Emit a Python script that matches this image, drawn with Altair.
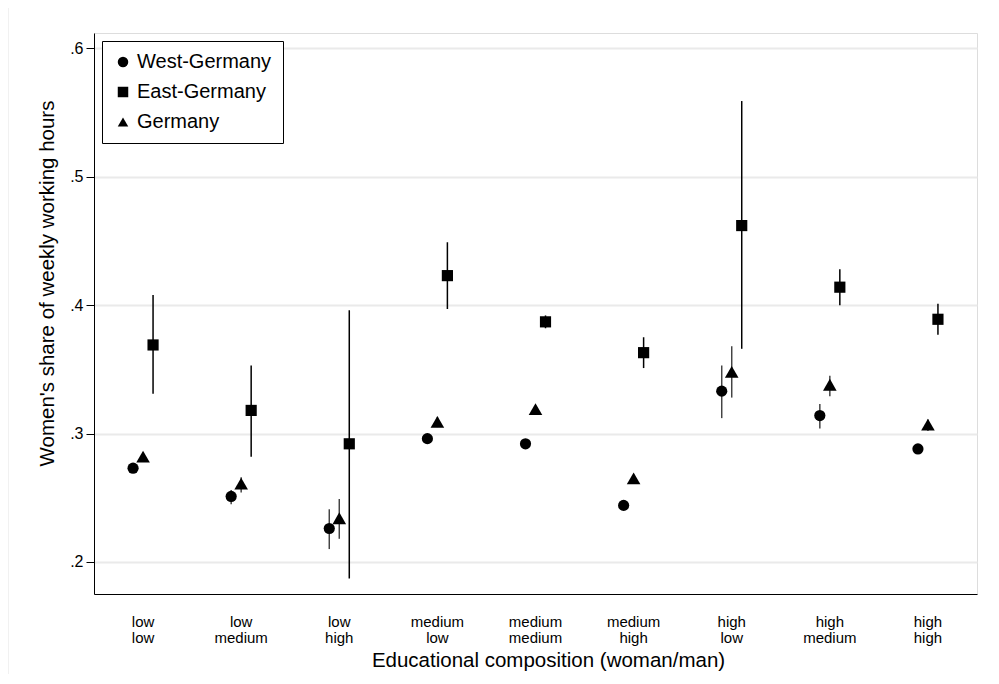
import altair as alt
import pandas as pd

categories = ["low low", "low medium", "low high", "medium low", "medium medium",
              "medium high", "high low", "high medium", "high high"]
series_names = ["West-Germany", "East-Germany", "Germany"]

west = [0.273, 0.251, 0.226, 0.296, 0.292, 0.244, 0.333, 0.314, 0.288]
west_lo = [0.270, 0.245, 0.210, 0.293, 0.290, 0.241, 0.312, 0.304, 0.285]
west_hi = [0.276, 0.256, 0.241, 0.299, 0.294, 0.247, 0.353, 0.323, 0.291]

east = [0.369, 0.318, 0.292, 0.423, 0.387, 0.363, 0.462, 0.414, 0.389]
east_lo = [0.331, 0.282, 0.187, 0.397, 0.382, 0.351, 0.366, 0.400, 0.377]
east_hi = [0.408, 0.353, 0.396, 0.449, 0.392, 0.375, 0.559, 0.428, 0.401]

germany = [0.282, 0.261, 0.234, 0.309, 0.319, 0.265, 0.348, 0.338, 0.307]
germany_lo = [0.278, 0.254, 0.218, 0.305, 0.316, 0.262, 0.328, 0.329, 0.302]
germany_hi = [0.285, 0.266, 0.249, 0.313, 0.322, 0.268, 0.368, 0.345, 0.311]

y_ticks = [0.2, 0.3, 0.4, 0.5, 0.6]

rows = []
for name, v, lo, hi in [("West-Germany", west, west_lo, west_hi),
                        ("East-Germany", east, east_lo, east_hi),
                        ("Germany", germany, germany_lo, germany_hi)]:
    for c, a, b, d in zip(categories, v, lo, hi):
        rows.append({"cat": c, "series": name, "value": a, "lo": b, "hi": d})
df = pd.DataFrame(rows)

FONT = "Liberation Sans"
W, H = 883, 561
BAND = W / len(categories)

x_enc = alt.X("cat:N", sort=categories,
              scale=alt.Scale(paddingInner=0, paddingOuter=0),
              axis=alt.Axis(title="Educational composition (woman/man)",
                            labelExpr="split(datum.label, ' ')",
                            labelAngle=0, ticks=False, labelPadding=20,
                            labelFontSize=15, labelLineHeight=16,
                            titleFontSize=20.5, titlePadding=5,
                            titleX=454,
                            titleFontWeight="normal",
                            domainColor="black", domainWidth=1,
                            labelColor="black", titleColor="black",
                            labelFont=FONT, titleFont=FONT))
xoff_enc = alt.XOffset("series:N",
                       scale=alt.Scale(type="point",
                                       domain=["West-Germany", "Germany", "East-Germany"],
                                       range=[BAND / 2 - 10, BAND / 2 + 10], padding=0))
y_scale = alt.Scale(domain=[0.175, 0.612], nice=False, zero=False)
y_axis = alt.Axis(title="Women's share of weekly working hours",
                  values=y_ticks,
                  labelExpr="replace(format(datum.value, '.1f'), '0.', '.')",
                  tickSize=8, labelPadding=3, labelFontSize=16,
                  titleFontSize=20.5, titlePadding=12, titleFontWeight="normal",
                  titleY=250,
                  grid=True, gridColor="#eaeaea", gridWidth=2,
                  domainColor="black", tickColor="black",
                  labelColor="black", titleColor="black",
                  labelFont=FONT, titleFont=FONT)

frame = alt.Chart(pd.DataFrame({"a": [0]})).mark_rect(
    fill=None, stroke="#e4e4e4", strokeWidth=1, clip=False
).encode(x=alt.value(-86), x2=alt.value(1000), y=alt.value(-27), y2=alt.value(1000))

bars = alt.Chart(df).mark_rule(strokeWidth=1.5).encode(
    x=x_enc, xOffset=xoff_enc,
    y=alt.Y("lo:Q", scale=y_scale, axis=y_axis),
    y2="hi:Q",
    color=alt.condition(alt.datum.series == "East-Germany",
                        alt.value("#000000"), alt.value("#444444")),
)

points = alt.Chart(df).mark_point(filled=True, opacity=1, color="black").encode(
    x=x_enc, xOffset=xoff_enc,
    y=alt.Y("value:Q", scale=y_scale),
    shape=alt.Shape("series:N",
                    scale=alt.Scale(domain=series_names,
                                    range=["circle", "square", "triangle-up"]),
                    legend=alt.Legend(title=None, orient="top-left", offset=8,
                                      padding=11, rowPadding=10,
                                      strokeColor="black", fillColor="white",
                                      labelFontSize=20, labelFont=FONT,
                                      labelColor="black", symbolSize=110,
                                      symbolFillColor="black", symbolStrokeColor="black",
                                      labelOffset=4)),
    size=alt.condition(alt.datum.series == "Germany", alt.value(185), alt.value(125)),
)

chart = alt.layer(frame, bars, points).properties(
    width=W, height=H,
    autosize=alt.AutoSizeParams(type="none"),
    padding={"left": 86, "top": 25, "right": 10, "bottom": 80},
).configure_view(stroke=None).configure(background="white")

chart.save("out.html", embed_options={"renderer": "svg", "actions": False})
